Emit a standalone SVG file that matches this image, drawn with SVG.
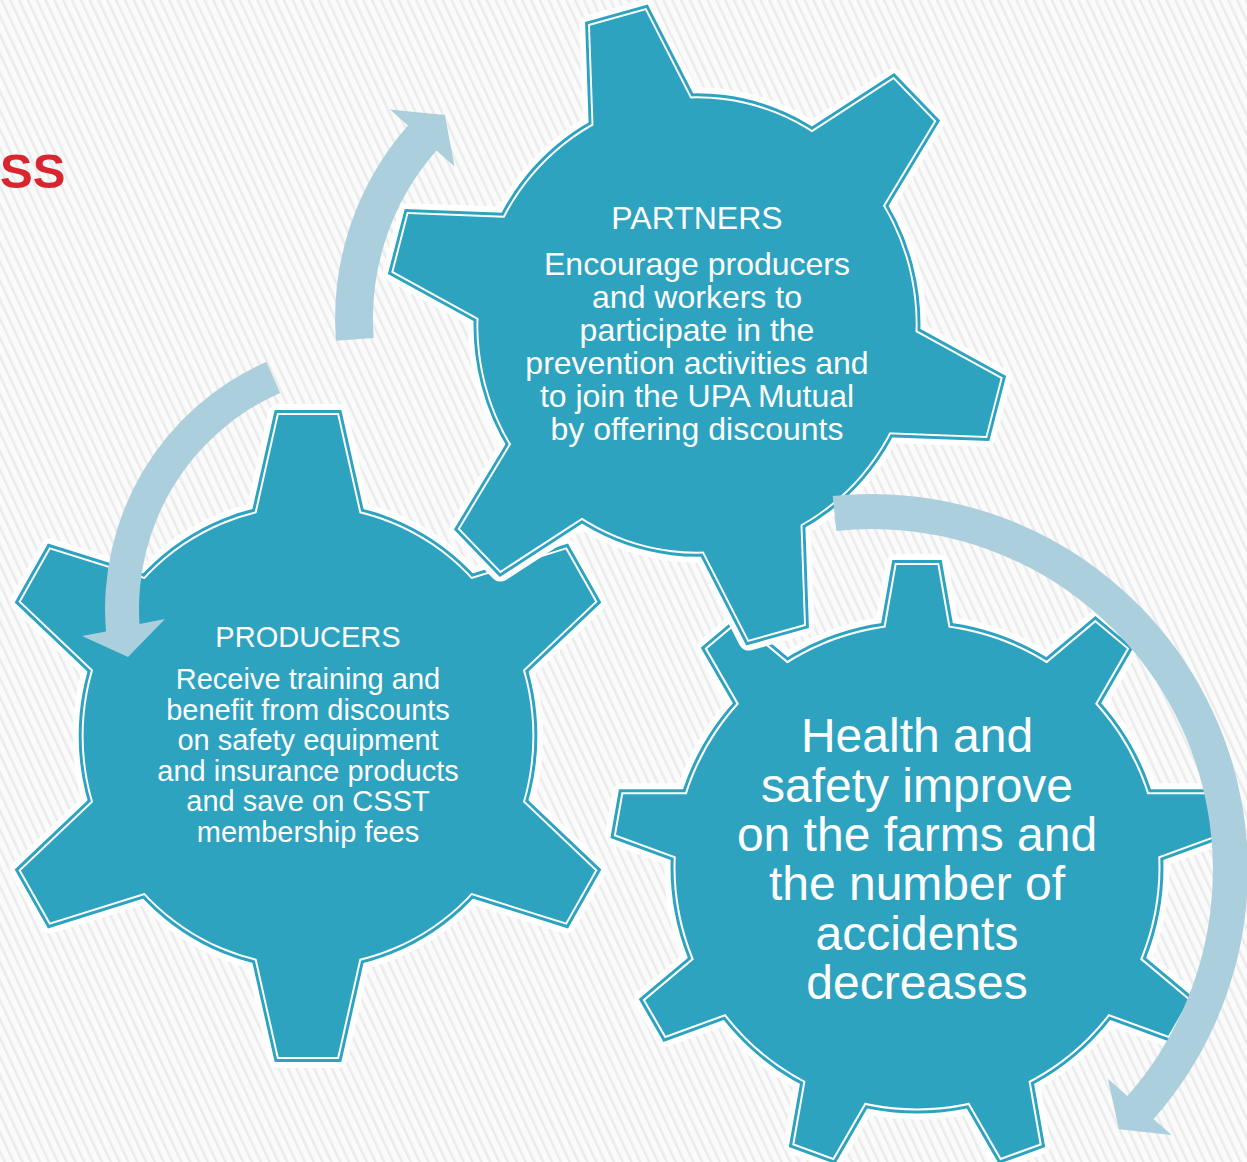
<svg xmlns="http://www.w3.org/2000/svg" xmlns:xlink="http://www.w3.org/1999/xlink" width="1247" height="1162" viewBox="0 0 1247 1162">
<style>
.halo{fill:#ffffff;stroke:#ffffff;stroke-width:22;stroke-linejoin:round}
.rim{fill:none;stroke:#2ea3c0;stroke-width:10;stroke-linejoin:miter}
.line{fill:none;stroke:#ffffff;stroke-width:4;stroke-linejoin:miter}
.body{fill:#2ea3c0;stroke:none}
.arrow{fill:#abcfdd;stroke:none}
.t{font-family:"Liberation Sans",Arial,sans-serif;fill:#ffffff;text-anchor:middle}
.title{font-family:"Liberation Sans",Arial,sans-serif;font-weight:bold;fill:#d9252f}
</style>
<defs>
<pattern id="bg" width="8" height="8" patternUnits="userSpaceOnUse" patternTransform="rotate(-25)">
<rect width="8" height="8" fill="#fbfbfb"/>
<rect width="2.5" height="8" fill="#ebebeb"/>
</pattern>
<g id="gear6">
<circle r="229"/>
<polygon id="t6" points="-30,-321 30,-321 61.2,-185 -61.2,-185"/>
<use href="#t6" transform="rotate(60)"/>
<use href="#t6" transform="rotate(120)"/>
<use href="#t6" transform="rotate(180)"/>
<use href="#t6" transform="rotate(240)"/>
<use href="#t6" transform="rotate(300)"/>
</g>
<g id="gear9">
<circle r="241.5"/>
<polygon id="t9" points="-20.5,-302 20.5,-302 37.6,-205 -37.6,-205"/>
<use href="#t9" transform="rotate(40)"/>
<use href="#t9" transform="rotate(80)"/>
<use href="#t9" transform="rotate(120)"/>
<use href="#t9" transform="rotate(160)"/>
<use href="#t9" transform="rotate(200)"/>
<use href="#t9" transform="rotate(240)"/>
<use href="#t9" transform="rotate(280)"/>
<use href="#t9" transform="rotate(320)"/>
</g>
</defs>
<rect width="1247" height="1162" fill="url(#bg)"/>
<text class="title" x="0" y="187.5" font-size="49">SS</text>

<g id="node-producers">
<g transform="translate(308,736) scale(0.98,1)">
<use href="#gear6" class="halo"/>
<use href="#gear6" class="rim"/>
<use href="#gear6" class="line"/>
<use href="#gear6" class="body"/>
</g>
<text class="t" font-size="29" x="308" y="646.5">PRODUCERS</text>
<text class="t" font-size="29" x="308" y="689">Receive training and</text>
<text class="t" font-size="29" x="308" y="719.5">benefit from discounts</text>
<text class="t" font-size="29" x="308" y="750">on safety equipment</text>
<text class="t" font-size="29" x="308" y="780.5">and insurance products</text>
<text class="t" font-size="29" x="308" y="811">and save on CSST</text>
<text class="t" font-size="29" x="308" y="841.5">membership fees</text>
</g>

<g id="node-health">
<g transform="translate(917,867)">
<use href="#gear9" class="halo"/>
<use href="#gear9" class="rim"/>
<use href="#gear9" class="line"/>
<use href="#gear9" class="body"/>
</g>
<text class="t" font-size="48" x="917" y="752">Health and</text>
<text class="t" font-size="48" x="917" y="801.5">safety improve</text>
<text class="t" font-size="48" x="917" y="851">on the farms and</text>
<text class="t" font-size="48" x="917" y="900">the number of</text>
<text class="t" font-size="48" x="917" y="949.5">accidents</text>
<text class="t" font-size="48" x="917" y="999">decreases</text>
</g>

<g id="node-partners">
<g transform="translate(697,325) scale(0.955,0.99) rotate(-15)">
<use href="#gear6" class="halo"/>
<use href="#gear6" class="rim"/>
<use href="#gear6" class="line"/>
<use href="#gear6" class="body"/>
</g>
<text class="t" font-size="32" x="697" y="229">PARTNERS</text>
<text class="t" font-size="32" x="697" y="274.5">Encourage producers</text>
<text class="t" font-size="32" x="697" y="307.5">and workers to</text>
<text class="t" font-size="32" x="697" y="340.5">participate in the</text>
<text class="t" font-size="32" x="697" y="373.5">prevention activities and</text>
<text class="t" font-size="32" x="697" y="406.5">to join the UPA Mutual</text>
<text class="t" font-size="32" x="697" y="439.5">by offering discounts</text>
</g>

<g id="connectors">
<path class="arrow" d="M336,340.7 A292,292 0 0 1 408,125.4 L390,109.5 L444.9,115.1 L454.5,166.4 L436.5,150.5 A254,254 0 0 0 373.7,338 Z"/>
<path class="arrow" d="M266.5,361.8 A270,270 0 0 0 106,631.6 L82,636 L128,657 L165,619 L139.5,624.1 A236,236 0 0 1 280.1,392.9 Z"/>
<path class="arrow" d="M832.7,496.1 A376,376 0 0 1 1153.6,1119.1 L1171.6,1135 L1118.9,1129.3 L1107.9,1078.7 L1127.4,1095.9 A341,341 0 0 0 836.4,530.9 Z"/>
</g>
</svg>
